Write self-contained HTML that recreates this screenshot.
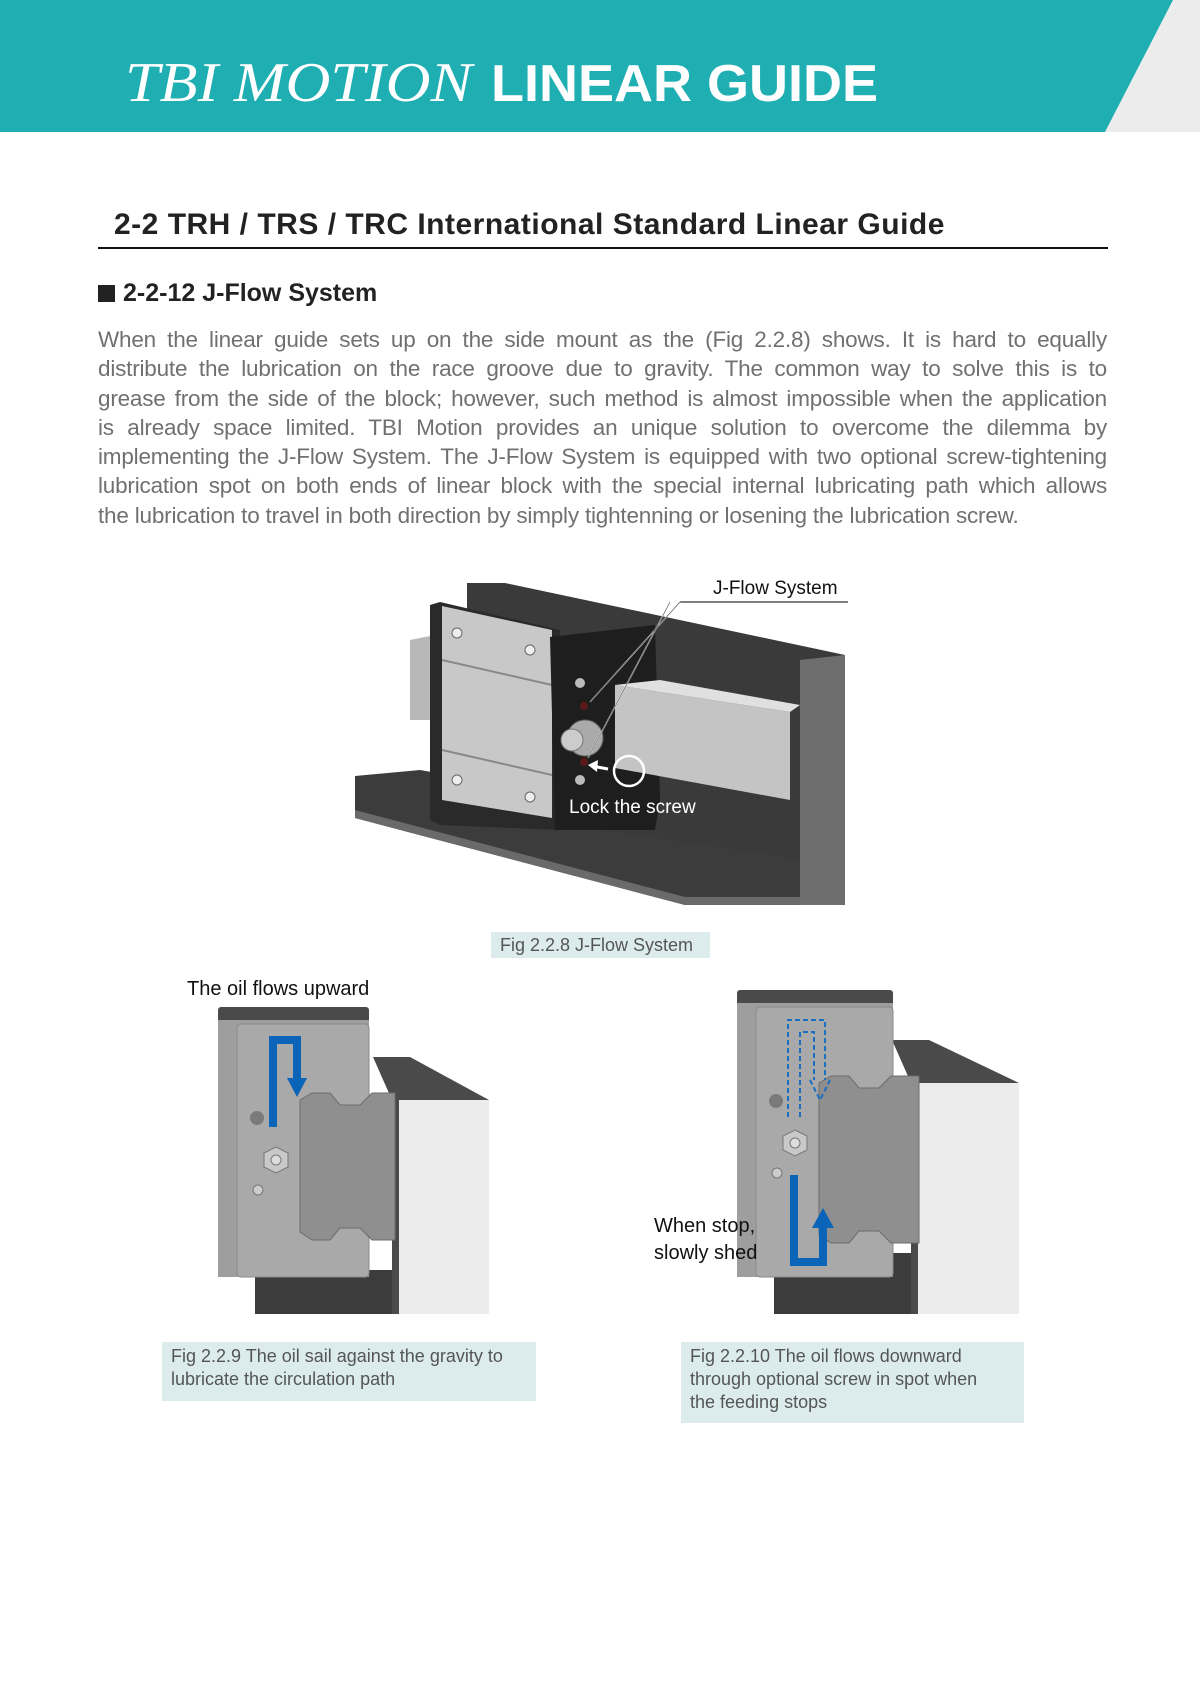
<!DOCTYPE html>
<html><head><meta charset="utf-8"><style>
html,body{margin:0;padding:0;background:#fff}
body{width:1200px;height:1703px;position:relative;overflow:hidden;font-family:"Liberation Sans",sans-serif}
.abs{position:absolute}
.para{left:98px;top:325px;width:1009px;font-size:22.5px;line-height:29.3px;color:#707070;text-align:justify;text-align-last:justify;letter-spacing:-0.2px}
.para span{display:block}
.cap{background:#dcecec;color:#555;font-size:18px;line-height:23px;padding:3px 9px}
</style></head><body>
<svg class="abs" style="left:0;top:0" width="1200" height="132">
<polygon points="1173,0 1200,0 1200,132 1105,132" fill="#ececec"/>
<polygon points="0,0 1173,0 1105,132 0,132" fill="#1fafb3"/>
<text x="125" y="101" font-family="Liberation Serif" font-style="italic" font-size="56" fill="#fff" textLength="347" lengthAdjust="spacingAndGlyphs">TBI MOTION</text>
<text x="491" y="101" font-family="Liberation Sans" font-weight="bold" font-size="52" fill="#fff" textLength="387" lengthAdjust="spacingAndGlyphs">LINEAR GUIDE</text>
</svg>
<div class="abs" style="left:114px;top:208px;font-size:30px;font-weight:bold;color:#222;letter-spacing:0.5px">2-2 TRH / TRS / TRC International Standard Linear Guide</div>
<div class="abs" style="left:98px;top:247px;width:1010px;height:2px;background:#111"></div>
<div class="abs" style="left:98px;top:279px;font-size:25px;color:#222;font-weight:bold"><span style="display:inline-block;width:17px;height:17px;background:#222;vertical-align:-1px;margin-right:8px"></span>2-2-12 J-Flow System</div>
<div class="abs para">
<span>When the linear guide sets up on the side mount as the (Fig 2.2.8) shows. It is hard to equally</span>
<span>distribute the lubrication on the race groove due to gravity. The common way to solve this is to</span>
<span>grease from the side of the block; however, such method is almost impossible when the application</span>
<span>is already space limited. TBI Motion provides an unique solution to overcome the dilemma by</span>
<span>implementing the J-Flow System. The J-Flow System is equipped with two optional screw-tightening</span>
<span>lubrication spot on both ends of linear block with the special internal lubricating path which allows</span>
<span style="text-align-last:left">the lubrication to travel in both direction by simply tightenning or losening the lubrication screw.</span>
</div>

<svg class="abs" style="left:0;top:0" width="1200" height="1703">
<!-- Fig 2.2.8 -->
<polygon points="467,583 505,583 845,655 845,905 800,905 800,690 467,620" fill="#3a3a3a"/>
<polygon points="355,776 420,770 800,835 800,905 685,905 355,818" fill="#3c3c3c"/>
<polygon points="355,810 685,897 800,897 800,905 685,905 355,818" fill="#6a6a6a"/>
<polygon points="600,640 805,685 805,860 600,830" fill="#3a3a3a"/>
<polygon points="800,660 845,655 845,905 800,905" fill="#6e6e6e"/>
<polygon points="410,640 430,636 430,720 410,720" fill="#b8b8b8"/>
<polygon points="430,605 440,602 560,630 560,830 440,825 430,820" fill="#2a2a2a"/>
<polygon points="442,606 552,630 552,818 442,800" fill="#c8c8c8"/>
<line x1="442" y1="660" x2="552" y2="685" stroke="#888" stroke-width="2"/>
<line x1="442" y1="750" x2="552" y2="775" stroke="#888" stroke-width="2"/>
<circle cx="457" cy="633" r="5" fill="#eee" stroke="#666"/><circle cx="530" cy="650" r="5" fill="#eee" stroke="#666"/>
<circle cx="457" cy="780" r="5" fill="#eee" stroke="#666"/><circle cx="530" cy="797" r="5" fill="#eee" stroke="#666"/>
<polygon points="550,637 655,625 660,800 655,830 555,830" fill="#1e1e1e"/>
<polygon points="615,685 790,712 790,800 615,768" fill="#c4c4c4"/>
<polygon points="615,685 660,680 800,705 790,712" fill="#e0e0e0"/>
<circle cx="580" cy="683" r="5" fill="#bbb"/><circle cx="580" cy="780" r="5" fill="#bbb"/>
<circle cx="584" cy="706" r="4" fill="#5a1a1a"/><circle cx="584" cy="762" r="4" fill="#5a1a1a"/>
<circle cx="585" cy="738" r="18" fill="#aaa" stroke="#666"/><circle cx="572" cy="740" r="11" fill="#ccc" stroke="#777"/>
<circle cx="629" cy="771" r="15" fill="none" stroke="#fff" stroke-width="2.5"/>
<line x1="608" y1="769" x2="592" y2="766" stroke="#fff" stroke-width="3"/>
<polygon points="588,765 598,760 597,772" fill="#fff"/>
<line x1="680" y1="602" x2="848" y2="602" stroke="#333" stroke-width="1.2"/>
<line x1="680" y1="602" x2="590" y2="702" stroke="#fff" stroke-width="1.3"/>
<line x1="670" y1="602" x2="588" y2="758" stroke="#fff" stroke-width="1.3"/>
<line x1="680" y1="602" x2="590" y2="702" stroke="#444" stroke-width="0.6"/>
<line x1="670" y1="602" x2="588" y2="758" stroke="#444" stroke-width="0.6"/>
<text x="713" y="594" font-size="19" fill="#111">J-Flow System</text>
<text x="569" y="813" font-size="19" fill="#fff">Lock the screw</text>

<!-- Fig 2.2.9 -->
<g>
<rect x="255" y="1270" width="138" height="44" fill="#3c3c3c"/>
<polygon points="373,1057 410,1057 489,1100 489,1314 392,1314 392,1100" fill="#4a4a4a"/>
<rect x="399" y="1100" width="90" height="214" fill="#ececec"/>
<rect x="218" y="1007" width="151" height="20" rx="3" fill="#4a4a4a"/>
<rect x="218" y="1020" width="151" height="257" fill="#9e9e9e"/>
<rect x="237" y="1024" width="132" height="253" rx="4" fill="#a9a9a9" stroke="#8a8a8a"/>
<polygon points="300,1100 312,1093 330,1093 340,1105 360,1105 372,1093 395,1093 395,1240 372,1240 360,1228 340,1228 330,1240 312,1240 300,1232" fill="#8f8f8f" stroke="#6c6c6c"/>
<circle cx="257" cy="1118" r="7" fill="#7a7a7a"/>
<polygon points="276,1147 288,1153 288,1167 276,1173 264,1167 264,1153" fill="#c8c8c8" stroke="#777"/>
<circle cx="276" cy="1160" r="5" fill="#ddd" stroke="#777"/>
<circle cx="258" cy="1190" r="5" fill="#ccc" stroke="#777"/>
</g>
<path d="M273,1127 V1040 H297 V1080" fill="none" stroke="#0a64b8" stroke-width="8"/>
<polygon points="287,1078 307,1078 297,1097" fill="#0a64b8"/>
<text x="187" y="995" font-size="20" fill="#111">The oil flows upward</text>

<!-- Fig 2.2.10 -->
<g transform="translate(519,-17)">
<rect x="255" y="1270" width="138" height="61" fill="#3c3c3c"/>
<polygon points="373,1057 410,1057 500,1100 500,1331 392,1331 392,1100" fill="#4a4a4a"/>
<rect x="399" y="1100" width="101" height="231" fill="#ececec"/>
<rect x="218" y="1007" width="156" height="20" rx="3" fill="#4a4a4a"/>
<rect x="218" y="1020" width="156" height="274" fill="#9e9e9e"/>
<rect x="237" y="1024" width="137" height="270" rx="4" fill="#a9a9a9" stroke="#8a8a8a"/>
<polygon points="300,1100 312,1093 330,1093 340,1105 360,1105 372,1093 400,1093 400,1260 372,1260 360,1248 340,1248 330,1260 312,1260 300,1252" fill="#8f8f8f" stroke="#6c6c6c"/>
<circle cx="257" cy="1118" r="7" fill="#7a7a7a"/>
<polygon points="276,1147 288,1153 288,1167 276,1173 264,1167 264,1153" fill="#c8c8c8" stroke="#777"/>
<circle cx="276" cy="1160" r="5" fill="#ddd" stroke="#777"/>
<circle cx="258" cy="1190" r="5" fill="#ccc" stroke="#777"/>
</g>
<path d="M788,1117 V1020 H825 V1080 M800,1117 V1032 H814 V1080" fill="none" stroke="#1a6fc0" stroke-width="2" stroke-dasharray="5,3"/>
<polyline points="810,1080 820,1100 830,1080" fill="none" stroke="#1a6fc0" stroke-width="2" stroke-dasharray="5,3"/>
<path d="M794,1175 V1262 H823 V1225" fill="none" stroke="#0a64b8" stroke-width="8"/>
<polygon points="812,1228 834,1228 823,1208" fill="#0a64b8"/>
<text x="654" y="1232" font-size="20" fill="#111">When stop,</text>
<text x="654" y="1259" font-size="20" fill="#111">slowly shed</text>
</svg>

<div class="abs cap" style="left:491px;top:932px;height:20px;line-height:20px;padding:3px 9px;width:201px">Fig 2.2.8 J-Flow System</div>
<div class="abs cap" style="left:162px;top:1342px;width:356px;height:53px">Fig 2.2.9 The oil sail against the gravity to<br>lubricate the circulation path</div>
<div class="abs cap" style="left:681px;top:1342px;width:325px;height:75px">Fig 2.2.10 The oil flows downward<br>through optional screw in spot when<br>the feeding stops</div>
</body></html>
